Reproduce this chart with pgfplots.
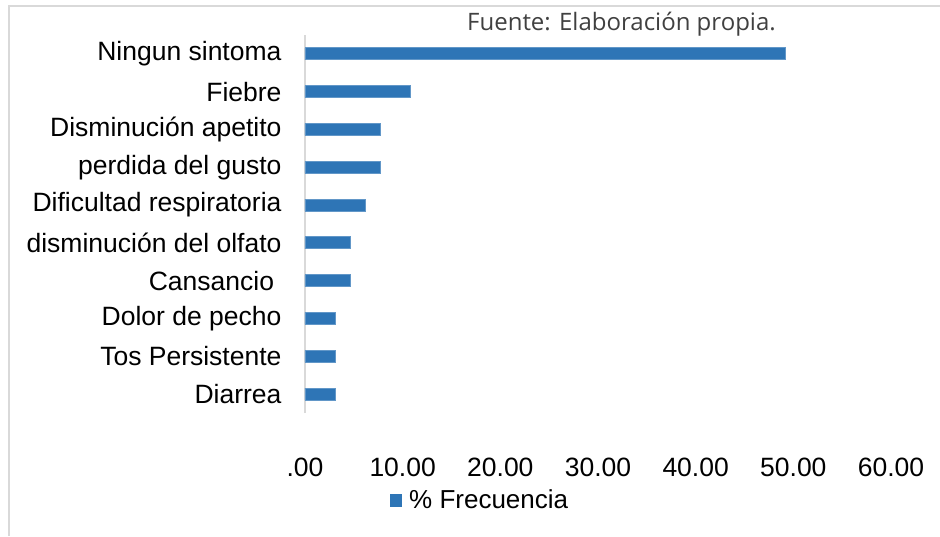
\documentclass[border=0pt]{standalone}
\usepackage{pgfplots}
\pgfplotsset{compat=1.18}
\usepackage{fontspec}
\setmainfont{Liberation Sans}
\newfontfamily\srcfont{Open Sans}
\definecolor{barblue}{RGB}{46,117,182}
\definecolor{framegray}{RGB}{217,217,217}
\definecolor{srcgray}{RGB}{64,64,64}
\begin{document}
\begin{tikzpicture}[x=1pt,y=1pt]
\path[use as bounding box] (0,0) rectangle (940,536);
\draw[framegray,line width=2pt] (9,0) -- (9,530) -- (940,530);
\node[anchor=base west,text=srcgray,inner sep=0pt,font=\srcfont\fontsize{24}{28}\selectfont] at (467,505) {Fuente: Elaboración propia.};
\begin{axis}[
  at={(305pt,123pt)}, anchor=south west,
  scale only axis, width=586pt, height=378pt,
  xbar, bar width=12pt,
  xmin=0, xmax=60, ymin=-0.5, ymax=9.5,
  axis lines=left,
  axis line style={-},
  x axis line style={draw=none},
  y axis line style={draw=framegray,line width=1.5pt},
  major tick length=0pt,
  xtick={0,10,20,30,40,50,60},
  xticklabels={.00,10.00,20.00,30.00,40.00,50.00,60.00},
  xticklabel style={yshift=-41pt},
  ytick={0,...,9},
  yticklabels={Diarrea,Tos Persistente,Dolor de pecho,Cansancio\kern0.28em,disminución del olfato,Dificultad respiratoria,perdida del gusto,Disminución apetito,Fiebre,Ningun sintoma},
  yticklabel style={xshift=-20pt},
  tick label style={font=\fontsize{26.5}{30}\selectfont},
  legend style={at={(0.3,-0.23)},anchor=center,draw=none,fill=none,font=\fontsize{26}{30}\selectfont,inner sep=0pt},
  legend image code/.code={\fill[barblue] (0pt,-6pt) rectangle (11pt,6pt);},
  legend cell align=left,
  legend style={nodes={inner sep=3pt}},
]
\addplot[fill=barblue,draw=barblue!75!white,line width=0.8pt] coordinates {
(3.08,0) (3.08,1) (3.08,2) (4.62,3) (4.62,4) (6.15,5) (7.69,6) (7.69,7) (10.77,8) (49.23,9)
};
\addlegendentry{\hspace{4pt}\% Frecuencia}
\end{axis}
\end{tikzpicture}
\end{document}
